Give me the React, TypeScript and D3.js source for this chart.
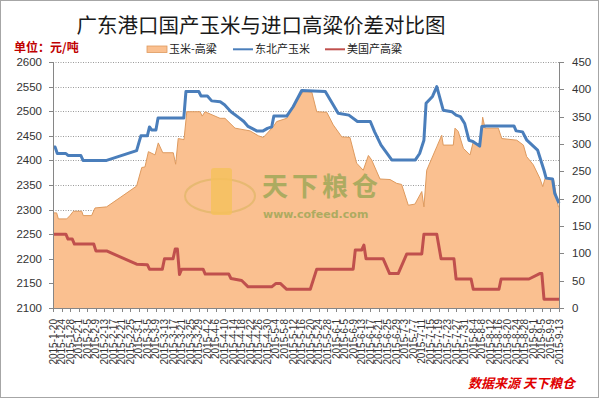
import React from 'react';
import * as d3 from 'd3';

// ---- data ----
const xLabels = [
  '2015-1-20','2015-1-24','2015-1-28','2015-2-1','2015-2-5','2015-2-9','2015-2-13','2015-2-17','2015-2-21','2015-2-25',
  '2015-3-1','2015-3-5','2015-3-9','2015-3-13','2015-3-17','2015-3-21','2015-3-25','2015-3-29','2015-4-2','2015-4-6',
  '2015-4-10','2015-4-14','2015-4-18','2015-4-22','2015-4-26','2015-4-30','2015-5-4','2015-5-8','2015-5-12','2015-5-16',
  '2015-5-20','2015-5-24','2015-5-28','2015-6-1','2015-6-5','2015-6-9','2015-6-13','2015-6-17','2015-6-21','2015-6-25',
  '2015-6-29','2015-7-3','2015-7-7','2015-7-11','2015-7-15','2015-7-19','2015-7-23','2015-7-27','2015-7-31','2015-8-4',
  '2015-8-8','2015-8-12','2015-8-16','2015-8-20','2015-8-24','2015-8-28','2015-9-1','2015-9-5','2015-9-9','2015-9-13'
];
const labelStepDays = 4;
const totalDays = 236;

// 东北产玉米 (left axis): day offset from 2015-1-20, price
const cornDays = [0,1,2,6,7,13,14,25,39,40,41,44,45,46,48,49,61,62,68,69,72,74,78,80,83,87,89,91,95,98,100,102,103,109,112,116,127,133,138,142,148,150,153,158,169,171,173,174,177,179,182,186,188,190,192,194,196,199,200,202,215,216,219,221,226,229,230,233,234,236];
const cornValues = [2427,2427,2414,2414,2410,2410,2400,2400,2420,2435,2450,2450,2468,2462,2462,2486,2486,2540,2540,2531,2531,2521,2519,2513,2499,2486,2479,2469,2460,2460,2465,2468,2490,2490,2509,2542,2540,2496,2492,2479,2479,2458,2431,2401,2401,2414,2441,2516,2530,2550,2502,2499,2492,2489,2475,2441,2438,2429,2469,2470,2470,2460,2458,2441,2421,2380,2364,2362,2333,2313];

// 美国产高粱 (left axis)
const sorghumDays = [0,6,7,9,10,19,20,25,39,44,45,51,52,56,57,58,59,60,70,71,82,83,88,91,102,104,106,109,120,123,140,141,144,145,146,154,157,161,165,172,173,179,181,187,188,195,196,208,209,222,227,228,229,236];
const sorghumValues = [2250,2250,2240,2240,2230,2230,2216,2216,2189,2188,2179,2179,2200,2200,2220,2220,2168,2179,2179,2169,2169,2160,2156,2143,2143,2150,2150,2138,2138,2179,2179,2218,2218,2228,2200,2200,2170,2170,2210,2210,2250,2250,2200,2200,2159,2159,2138,2138,2159,2159,2170,2170,2118,2118];

// 玉米-高粱 (right axis)
const spreadDays = [0,1.7,2.5,6.4,7.9,9.5,13.4,14.1,18,19.6,25,31.3,39,41.4,42.9,44.5,47.6,49.1,51.2,56.1,57.2,58.4,61.1,62.4,68.6,69.6,70.9,77.9,80.2,84.9,91.9,95.8,98.1,102.8,104.3,109,112,116.7,120.7,123,127.7,130.7,134.7,138.5,141.6,144.7,147.1,148.6,152.5,157.2,160.3,162.6,165.7,168.8,172,173,174.3,179,181.3,182,186.7,187.5,189,191.4,194.5,196,199.2,200.4,201.5,207.7,209.3,216.3,219.4,220.9,224,227.1,228.4,229.5,233.4,235.7,236];
const spreadValues = [174,174,163,163,169,177,177,169,169,183,185,202,223,257,258,286,280,302,284,284,263,310,308,359,359,351,359,347,347,329,324,315,312,332,341,347,368,396,395,359,358,335,313,312,265,252,279,271,236,235,228,226,188,190,213,185,252,295,316,298,298,329,323,292,280,304,298,349,329,329,310,307,298,277,262,237,222,237,236,185,185];

const leftDomain = [2100, 2600];
const rightDomain = [0, 450];
const seriesNames = ['玉米-高粱', '东北产玉米', '美国产高粱'];
const titleText = '广东港口国产玉米与进口高粱价差对比图';
const unitText = '单位：元/吨';
const sourceText = '数据来源 天下粮仓';

const COLORS = { area: '#FAC090', areaEdge: '#DE9A5E', corn: '#4A7EBB', sorghum: '#C0504D' };

type P = [number, number];

export default function App() {
  const W = 600, H = 401;
  const L = 53, R = 559, T = 62, B = 308;
  const x = d3.scaleLinear().domain([0, totalDays]).range([L, R]);
  const yL = d3.scaleLinear().domain(leftDomain).range([B, T]);
  const yR = d3.scaleLinear().domain(rightDomain).range([B, T]);

  const spread: P[] = spreadDays.map((d, i) => [d, spreadValues[i]]);
  const corn: P[] = cornDays.map((d, i) => [d, cornValues[i]]);
  const sorghum: P[] = sorghumDays.map((d, i) => [d, sorghumValues[i]]);

  const areaPath = d3.area<P>().x(d => x(d[0])).y0(yR(0)).y1(d => yR(d[1]))(spread) || '';
  const areaTop = d3.line<P>().x(d => x(d[0])).y(d => yR(d[1]))(spread) || '';
  const leftLine = d3.line<P>().x(d => x(d[0])).y(d => yL(d[1]));

  const leftTicks = yL.ticks(10);
  const rightTicks = yR.ticks(9);
  const font = 'Liberation Sans, Arial, sans-serif';
  const cjk = '"Noto Sans CJK SC", sans-serif';

  return (
    <svg width={W} height={H} style={{ position: 'absolute', left: 0, top: 0, background: '#fff' }}>
      <rect x={0} y={0} width={W} height={H} fill="#fff" />
      <rect x={0.5} y={0.5} width={598} height={397} fill="none" stroke="#a6a6a6" />

      {/* title */}
      <text x={261} y={33} textAnchor="middle" fontFamily={cjk} fontSize={20.5} fill="#1a1a1a">{titleText}</text>
      <text x={14} y={52} fontFamily={cjk} fontSize={12} fontWeight="bold" fill="#C00000">{unitText}</text>

      {/* legend */}
      <g fontFamily={cjk} fontSize={11} fill="#222">
        <rect x={147} y={46} width={20} height={6.5} fill={COLORS.area} stroke={COLORS.areaEdge} strokeWidth={0.8} />
        <text x={169} y={53}>{seriesNames[0]}</text>
        <line x1={233} x2={253} y1={49.3} y2={49.3} stroke={COLORS.corn} strokeWidth={2} />
        <text x={255} y={53}>{seriesNames[1]}</text>
        <line x1={325} x2={345} y1={49.3} y2={49.3} stroke={COLORS.sorghum} strokeWidth={2} />
        <text x={347} y={53}>{seriesNames[2]}</text>
      </g>

      {/* gridlines */}
      {leftTicks.map(t => (
        <line key={'g' + t} x1={L} x2={R} y1={Math.round(yL(t)) + 0.5} y2={Math.round(yL(t)) + 0.5}
          stroke="#9a9a9a" strokeWidth={1} strokeDasharray="1,1.5" />
      ))}

      {/* area */}
      <path d={areaPath} fill={COLORS.area} />
      <path d={areaTop} fill="none" stroke={COLORS.areaEdge} strokeWidth={1} />

      {/* lines */}
      <path d={leftLine(corn) || ''} fill="none" stroke={COLORS.corn} strokeWidth={3} strokeLinejoin="round" />
      <path d={leftLine(sorghum) || ''} fill="none" stroke={COLORS.sorghum} strokeWidth={3} strokeLinejoin="round" />

      {/* watermark */}
      <g opacity={0.55}>
        <ellipse cx={220} cy={196} rx={35} ry={17} fill="none" stroke="#D9B45A" strokeWidth={2} />
        <rect x={211} y={168} width={21} height={47} rx={3} fill="#F2C230" opacity={0.8} />
        <text x={262} y={196} fontFamily={cjk} fontSize={26} fontWeight="bold" fill="#6F9A3A" letterSpacing={4}>天下粮仓</text>
        <text x={263} y={218} fontFamily="DejaVu Sans, sans-serif" fontSize={11} fontWeight="bold" fill="#6F9A3A">www.cofeed.com</text>
      </g>

      {/* axes */}
      <line x1={L + 0.5} x2={L + 0.5} y1={T} y2={B} stroke="#868686" />
      <line x1={R + 0.5} x2={R + 0.5} y1={T} y2={B} stroke="#868686" />
      <line x1={L} x2={R + 1} y1={B + 0.5} y2={B + 0.5} stroke="#868686" />

      {leftTicks.map(t => (
        <g key={'l' + t}>
          <line x1={L - 4} x2={L} y1={Math.round(yL(t)) + 0.5} y2={Math.round(yL(t)) + 0.5} stroke="#868686" />
          <text x={42} y={yL(t)} dy="0.35em" textAnchor="end" fontFamily={font} fontSize={11.5} fill="#333">{t}</text>
        </g>
      ))}
      {rightTicks.map(t => (
        <g key={'r' + t}>
          <line x1={R} x2={R + 5} y1={Math.round(yR(t)) + 0.5} y2={Math.round(yR(t)) + 0.5} stroke="#868686" />
          <text x={572} y={yR(t)} dy="0.35em" textAnchor="start" fontFamily={font} fontSize={11.5} fill="#333">{t}</text>
        </g>
      ))}

      {xLabels.map((lab, i) => {
        const px = x(i * labelStepDays);
        return (
          <g key={'x' + i}>
            <line x1={Math.round(px) + 0.5} x2={Math.round(px) + 0.5} y1={B} y2={B + 4} stroke="#868686" />
            <text transform={`translate(${px},${B + 11}) rotate(-90)`} textAnchor="end" dy="0.35em"
              fontFamily={font} fontSize={10} fill="#333">{lab}</text>
          </g>
        );
      })}

      <text x={468} y={388} fontFamily={cjk} fontSize={13} fontWeight="bold" fontStyle="italic" fill="#E00000">{sourceText}</text>
    </svg>
  );
}
